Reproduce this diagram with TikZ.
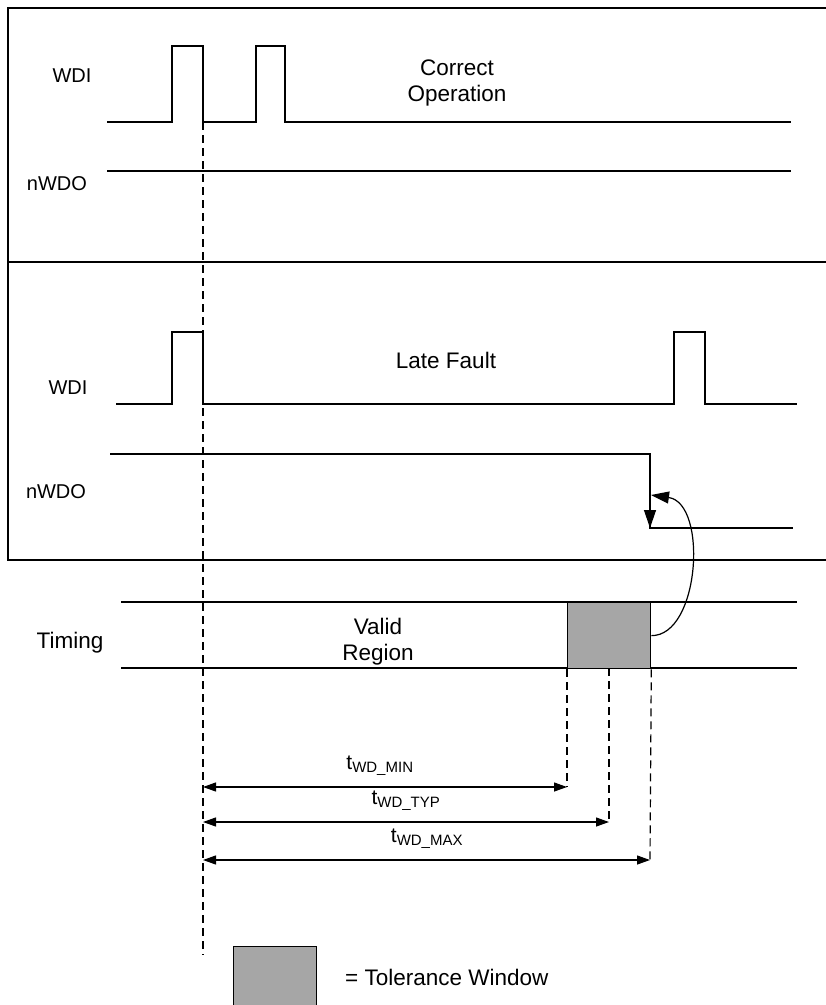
\documentclass[tikz,border=0pt]{standalone}
\usepackage{fontspec}
\setmainfont{Liberation Sans}
\usetikzlibrary{arrows.meta}
\definecolor{tolgray}{HTML}{A6A6A6}
\begin{document}
\begin{tikzpicture}[x=1pt,y=-1pt,
  sig/.style={line width=1.3pt},
  frame/.style={line width=1.3pt},
  dsh/.style={dash pattern=on 8pt off 5pt, line width=1.2pt},
  lbl/.style={font=\fontsize{20}{24}\selectfont, inner sep=0, anchor=base},
  big/.style={font=\fontsize{22.5}{26}\selectfont, inner sep=0, anchor=base},
  tlab/.style={font=\fontsize{21}{25}\selectfont, inner sep=0},
  dim/.style={{Triangle[length=13pt,width=9pt]}-{Triangle[length=13pt,width=9pt]}, line width=1.2pt},
  tol/.style={draw, fill=tolgray, line width=1.3pt}]
\useasboundingbox (0,0) rectangle (826,1005);

% frames
\draw[frame] (826,8) -- (8,8) -- (8,560) -- (826,560);
\draw[frame] (8,262) -- (826,262);

% Correct operation
\node[lbl] (wdi1) at (72,82) {WDI};
\node[lbl] (nwdo1) at (57,190) {nWDO};
\node[big] (corr1) at (457,75) {Correct};
\node[big] (corr2) at (457,101) {Operation};
\draw[sig] (107,122) -- (172,122) -- (172,46) -- (203,46) -- (203,122) -- (256,122) -- (256,46) -- (285,46) -- (285,122) -- (791,122);
\draw[sig] (107,171) -- (791,171);

% Late fault
\node[lbl] (wdi2) at (68,394) {WDI};
\node[lbl] (nwdo2) at (56,498) {nWDO};
\node[big] (late) at (446,368) {Late Fault};
\draw[sig] (116,404) -- (172,404) -- (172,332) -- (203,332) -- (203,404) -- (674,404) -- (674,332) -- (705,332) -- (705,404) -- (797,404);
\draw[sig] (110,454) -- (650,454) -- (650,528) -- (793,528);
\coordinate (drop) at (650,528);
\draw[sig, -{Triangle[length=18pt,width=12pt]}] (650,490) -- (drop);

% Timing
\node[big] (timing) at (70,648) {Timing};
\node[big] (valid1) at (378,634) {Valid};
\node[big] (valid2) at (378,660) {Region};
\draw[sig] (121,602) -- (797,602);
\draw[sig] (121,668) -- (797,668);
\node[tol, minimum width=83pt, minimum height=66pt, inner sep=0, anchor=north west] (tw) at (567,602) {};

% curved arrow
\coordinate (cend) at (651,495);
\draw[line width=1.2pt, -{Triangle[length=18pt,width=12pt]}] (tw.east) .. controls (700,636) and (708,503) .. (cend);

% dashed lines
\coordinate (d0t) at (203,122);
\coordinate (d0b) at (203,955);
\draw[dsh] (d0t) -- (d0b);
\coordinate (d1b) at (567,787);
\coordinate (d2t) at (609,668);
\coordinate (d2b) at (609,822);
\coordinate (d3b) at (650,860);
\draw[dsh] (tw.south west) -- (d1b);
\draw[dsh] (d2t) -- (d2b);
\draw[dsh] (tw.south east) -- (d3b);

% dimension arrows
\coordinate (a1) at (203,787);
\coordinate (a2) at (203,822);
\coordinate (a3) at (203,860);
\draw[dim] (a1) -- (d1b);
\draw[dim] (a2) -- (d2b);
\draw[dim] (a3) -- (d3b);
\node[tlab] (tmin) at (380,766) {t\textsubscript{\fontsize{15}{18}\selectfont WD\_MIN}};
\node[tlab] (ttyp) at (406,801) {t\textsubscript{\fontsize{15}{18}\selectfont WD\_TYP}};
\node[tlab] (tmax) at (427,839) {t\textsubscript{\fontsize{15}{18}\selectfont WD\_MAX}};

% legend
\node[tol, minimum width=83pt, minimum height=66pt, inner sep=0, anchor=north west] (leg) at (233,946) {};
\node[big, anchor=base west] (legt) at (345,985) {= Tolerance Window};
\end{tikzpicture}
\end{document}
